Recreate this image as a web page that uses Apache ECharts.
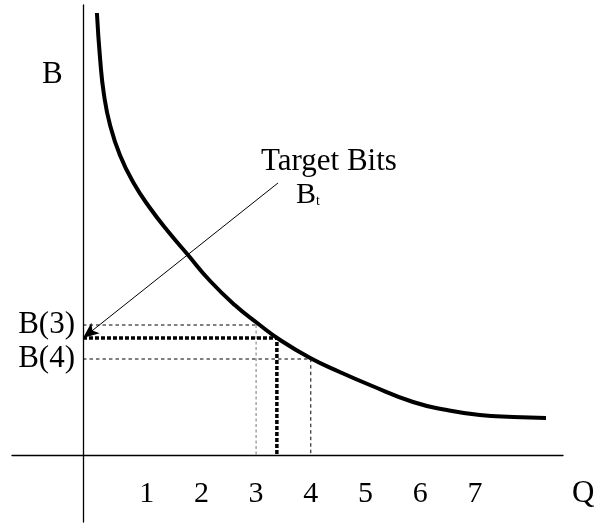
<!DOCTYPE html>
<html>
<head>
<meta charset="utf-8">
<script src="https://cdn.jsdelivr.net/npm/echarts@6/dist/echarts.min.js"></script>
<style>
  html, body { margin: 0; padding: 0; background: #fff; }
  #chart { width: 594px; height: 527px; }
</style>
</head>
<body>
<div id="chart"></div>
<script>
// curve B(Q) (B in arbitrary units)
var curveQ = [0.09, 0.15, 0.22, 0.33, 0.51, 0.75, 1.06, 1.43, 1.74, 2.16, 2.61, 3.02, 3.44, 3.99, 4.53, 5.08, 5.87, 6.49, 7.09, 7.70, 8.30];
var curveB = [44.2, 39.5, 36.0, 33.0, 30.0, 27.3, 24.7, 22.1, 20.1, 17.4, 15.0, 13.2, 11.5, 9.7, 8.3, 7.0, 5.3, 4.5, 4.0, 3.8, 3.7];

var qTicks = [1, 2, 3, 4, 5, 6, 7];
var bTicks = [13.0, 9.6];
var bTickLabels = ['B(3)', 'B(4)'];

var qAxisAt = -0.165;      // Q value where the B axis is drawn
var q3 = 3, b3 = 13.0;
var q4 = 4, b4 = 9.6;
var qTarget = 3.38, bTarget = 11.7;
var arrowFrom = [3.4, 27.2];

var FONT = '"Liberation Serif", "Times New Roman", serif';

var curveData = curveQ.map(function (q, i) { return [q, curveB[i]]; });

var chart = echarts.init(document.getElementById('chart'));

var thin = { color: '#000', width: 1, type: [3.5, 3] };

chart.setOption({
    animation: false,
    backgroundColor: '#fff',
    grid: { left: 12, right: 31, top: 5, bottom: 5, containLabel: false, outerBoundsMode: 'none' },
    xAxis: {
        type: 'value',
        min: -1.4625,
        max: 8.611,
        splitLine: { show: false },
        axisTick: { show: false },
        axisLine: { onZero: true, lineStyle: { color: '#000', width: 1.3 } },
        axisLabel: {
            customValues: qTicks,
            margin: -43,
            color: '#000',
            fontFamily: FONT,
            fontSize: 30
        }
    },
    yAxis: {
        type: 'value',
        min: -6.7,
        max: 45,
        offset: -71,
        splitLine: { show: false },
        axisTick: { show: false },
        axisLine: { onZero: false, lineStyle: { color: '#000', width: 1.3 } },
        axisLabel: {
            customValues: bTicks,
            margin: 8,
            color: '#000',
            fontFamily: FONT,
            fontSize: 31,
            formatter: function (v) {
                var i = bTicks.indexOf(v);
                return i >= 0 ? bTickLabels[i] : '';
            }
        }
    },
    series: [
        {
            type: 'line',
            data: [[qAxisAt, b3], [q3, b3]],
            showSymbol: false,
            lineStyle: thin
        },
        {
            type: 'line',
            data: [[q3, b3], [q3, 0]],
            showSymbol: false,
            lineStyle: { color: '#777', width: 1, type: [3, 2.5] }
        },
        {
            type: 'line',
            data: [[qAxisAt, b4], [q4, b4], [q4, 0]],
            showSymbol: false,
            lineStyle: thin
        },
        {
            type: 'line',
            data: [[qAxisAt, bTarget], [qTarget, bTarget], [qTarget, 0]],
            showSymbol: false,
            lineStyle: { color: '#000', width: 3.5, type: [4, 2] }
        },
        {
            type: 'line',
            data: curveData,
            smooth: true,
            showSymbol: false,
            lineStyle: { color: '#000', width: 4 },
            markLine: {
                silent: true,
                symbol: ['none', 'arrow'],
                symbolSize: [10, 16],
                label: { show: false },
                lineStyle: { color: '#000', width: 1, type: 'solid' },
                data: [[{ coord: arrowFrom }, { coord: [qAxisAt, bTarget] }]]
            }
        }
    ],
    graphic: [
        {
            type: 'text', left: 42, top: 59,
            style: { text: 'B', fontFamily: FONT, fontSize: 31, fill: '#000' }
        },
        {
            type: 'text', left: 572, top: 478,
            style: { text: 'Q', fontFamily: FONT, fontSize: 31, fill: '#000' }
        },
        {
            type: 'text', left: 261, top: 146,
            style: { text: 'Target Bits', fontFamily: FONT, fontSize: 31, fill: '#000' }
        },
        {
            type: 'text', left: 296, top: 180,
            style: {
                text: '{b|B}{s|t}',
                fill: '#000',
                rich: {
                    b: { fontFamily: FONT, fontSize: 30, verticalAlign: 'bottom' },
                    s: { fontFamily: FONT, fontSize: 14, verticalAlign: 'bottom', padding: [0, 0, 2, 0] }
                }
            }
        }
    ]
});
</script>
</body>
</html>
